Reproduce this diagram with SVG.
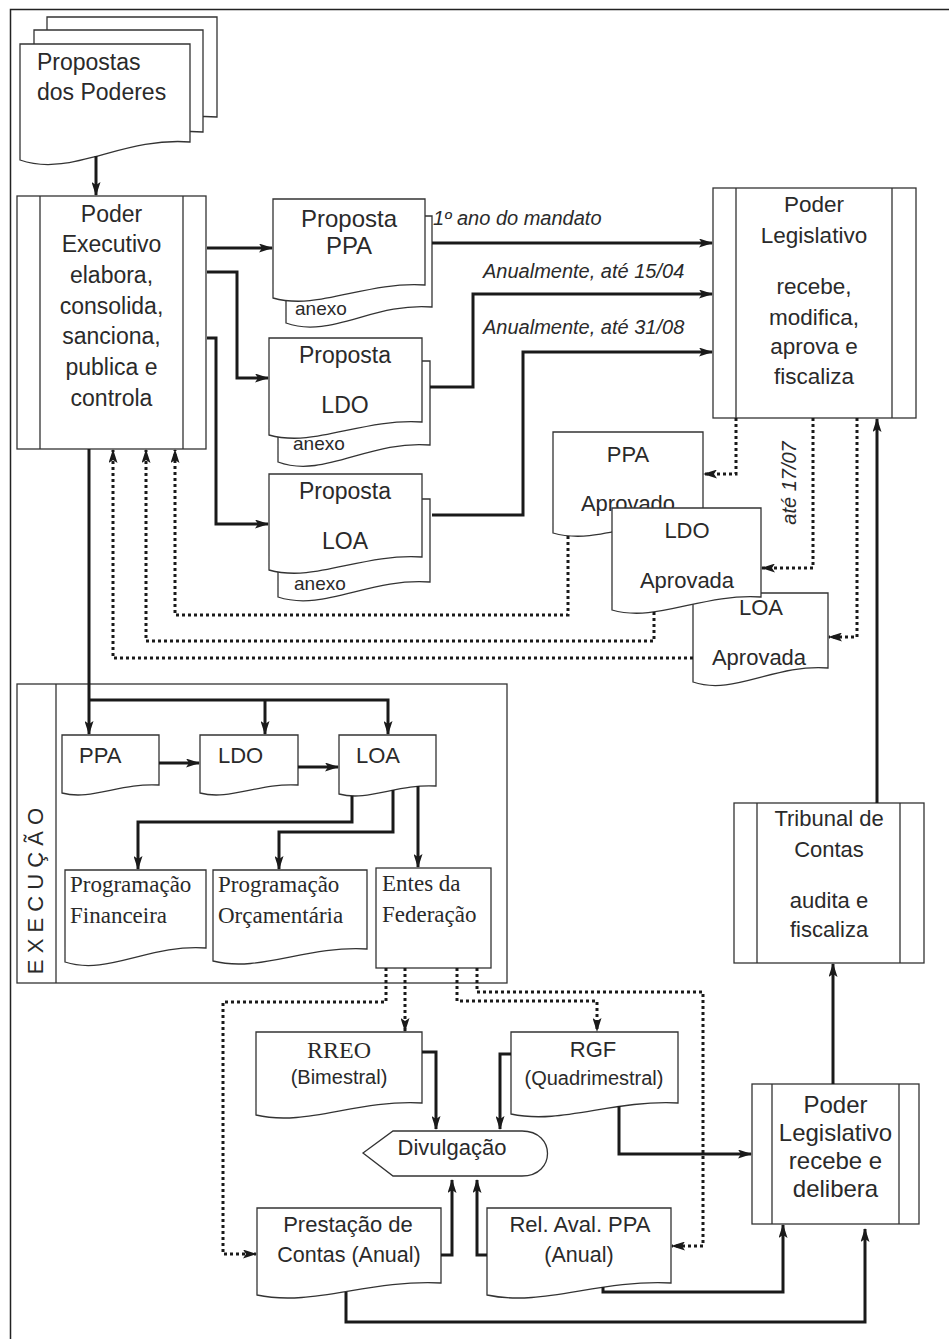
<svg xmlns="http://www.w3.org/2000/svg" width="949" height="1339" viewBox="0 0 949 1339">
<style>
.b{fill:#fff;stroke:#333;stroke-width:1.3}
.n{fill:none;stroke:#333;stroke-width:1.3}
.t{font-family:"Liberation Sans",Arial,sans-serif;fill:#2a2a2a}
.s{font-family:"Liberation Serif","Times New Roman",serif;fill:#2a2a2a}
.c{fill:none;stroke:#1a1a1a;stroke-width:3}
.d{fill:none;stroke:#1a1a1a;stroke-width:3;stroke-dasharray:3 3}
.a{marker-end:url(#ah)}
</style>
<defs>
<marker id="ah" viewBox="0 0 14 9" refX="13" refY="4.5" markerWidth="14" markerHeight="9" orient="auto" markerUnits="userSpaceOnUse">
<path d="M0,0 L14,4.5 L0,9 L3,4.5 Z" fill="#1a1a1a"/>
</marker>
</defs>
<rect width="949" height="1339" fill="#fff"/>
<path d="M10.5,1339 V9.5 H949" fill="none" stroke="#222" stroke-width="1.5"/>

<g id="propostas-poderes">
<path class="b" d="M47,17 H217 V117 C149,111.6 98,153 47,135 Z"/>
<path class="b" d="M34,30 H203 V132 C135.4,126.6 84.7,168 34,150 Z"/>
<path class="b" d="M20,44 H190 V142 C122,136.6 71,178 20,160 Z"/>
<text class="t" x="37" y="70" font-size="23">Propostas</text>
<text class="t" x="37" y="100" font-size="23">dos Poderes</text>
</g>

<g id="poder-executivo">
<rect class="b" x="17" y="196" width="189" height="253"/>
<path class="n" d="M40,196 V449 M183,196 V449"/>
<g class="t" font-size="23" text-anchor="middle">
<text x="111.5" y="222">Poder</text>
<text x="111.5" y="252">Executivo</text>
<text x="111.5" y="283">elabora,</text>
<text x="111.5" y="314">consolida,</text>
<text x="111.5" y="344">sanciona,</text>
<text x="111.5" y="375">publica e</text>
<text x="111.5" y="406">controla</text>
</g>
</g>

<g id="proposta-ppa">
<path class="b" d="M286,216 H432 V307 C373.6,302.2 329.8,339 286,323 Z"/>
<text class="t" x="295" y="315" font-size="19">anexo</text>
<path class="b" d="M273,199 H425 V285 C364.2,281.1 318.6,311 273,298 Z"/>
<text class="t" x="349" y="227" font-size="24" text-anchor="middle">Proposta</text>
<text class="t" x="349" y="254" font-size="24" text-anchor="middle">PPA</text>
</g>

<g id="proposta-ldo">
<path class="b" d="M278,361 H430 V445 C369.2,439.9 323.6,479 278,462 Z"/>
<text class="t" x="293" y="450" font-size="19">anexo</text>
<path class="b" d="M269,338 H422 V422 C360.8,418.1 314.9,448 269,435 Z"/>
<text class="t" x="345" y="363" font-size="23" text-anchor="middle">Proposta</text>
<text class="t" x="345" y="413" font-size="23" text-anchor="middle">LDO</text>
</g>

<g id="proposta-loa">
<path class="b" d="M278,499 H430 V582 C369.2,577.5 323.6,612 278,597 Z"/>
<text class="t" x="294" y="590" font-size="19">anexo</text>
<path class="b" d="M269,474 H422 V557 C360.8,553.1 314.9,583 269,570 Z"/>
<text class="t" x="345" y="499" font-size="23" text-anchor="middle">Proposta</text>
<text class="t" x="345" y="549" font-size="23" text-anchor="middle">LOA</text>
</g>

<g id="poder-legislativo">
<rect class="b" x="713" y="188" width="203" height="230"/>
<path class="n" d="M736,188 V418 M892,188 V418"/>
<g class="t" font-size="22.5" text-anchor="middle">
<text x="814" y="212">Poder</text>
<text x="814" y="243">Legislativo</text>
<text x="814" y="294">recebe,</text>
<text x="814" y="325">modifica,</text>
<text x="814" y="354">aprova e</text>
<text x="814" y="384">fiscaliza</text>
</g>
</g>

<g id="ppa-aprovado">
<path class="b" d="M553,432 H703 V520 C643,516.1 598,546 553,533 Z"/>
<text class="t" x="628" y="462" font-size="22" text-anchor="middle">PPA</text>
<text class="t" x="628" y="511" font-size="22" text-anchor="middle">Aprovado</text>
</g>

<g id="loa-aprovada">
<path class="b" d="M693,593 H828 V668 C774,663.8 733.5,696 693,682 Z"/>
<text class="t" x="761" y="615" font-size="22" text-anchor="middle">LOA</text>
<text class="t" x="759" y="665" font-size="22" text-anchor="middle">Aprovada</text>
</g>

<g id="ldo-aprovada">
<path class="b" d="M612,508 H761 V597 C701.4,593.1 656.7,623 612,610 Z"/>
<text class="t" x="687" y="538" font-size="22" text-anchor="middle">LDO</text>
<text class="t" x="687" y="588" font-size="22" text-anchor="middle">Aprovada</text>
</g>

<g id="execucao">
<rect class="b" x="17" y="684" width="490" height="299"/>
<path class="n" d="M56,684 V983"/>
<text class="t" x="43" y="891" font-size="22" text-anchor="middle" transform="rotate(-90 43 891)">E X E C U Ç Ã O</text>
</g>

<g id="exec-ppa">
<path class="b" d="M62,735 H159 V785 C120.2,782.6 91.1,801 62,793 Z"/>
<text class="t" x="79" y="763" font-size="22">PPA</text>
</g>
<g id="exec-ldo">
<path class="b" d="M200,735 H298 V785 C258.8,782.6 229.4,801 200,793 Z"/>
<text class="t" x="218" y="763" font-size="22">LDO</text>
</g>
<g id="exec-loa">
<path class="b" d="M339,735 H436 V786 C397.2,783.6 368.1,802 339,794 Z"/>
<text class="t" x="356" y="763" font-size="22">LOA</text>
</g>

<g id="programacao-financeira">
<path class="b" d="M65,870 H206 V948 C149.6,943.8 107.3,976 65,962 Z"/>
<text class="s" x="70" y="892" font-size="23">Programação</text>
<text class="s" x="70" y="923" font-size="23">Financeira</text>
</g>
<g id="programacao-orcamentaria">
<path class="b" d="M213,870 H367 V949 C305.4,945.4 259.2,973 213,961 Z"/>
<text class="s" x="218" y="892" font-size="23">Programação</text>
<text class="s" x="218" y="923" font-size="23">Orçamentária</text>
</g>
<g id="entes-federacao">
<rect class="b" x="376" y="868" width="115" height="100"/>
<text class="s" x="382" y="891" font-size="23">Entes da</text>
<text class="s" x="382" y="922" font-size="23">Federação</text>
</g>

<g id="rreo">
<path class="b" d="M256,1032 H422 V1103 C355.6,1099.4 305.8,1127 256,1115 Z"/>
<text class="s" x="339" y="1058" font-size="24" text-anchor="middle">RREO</text>
<text class="t" x="339" y="1084" font-size="20" text-anchor="middle">(Bimestral)</text>
</g>
<g id="rgf">
<path class="b" d="M511,1032 H678 V1103 C611.2,1099.7 561.1,1125 511,1114 Z"/>
<text class="t" x="593" y="1057" font-size="22" text-anchor="middle">RGF</text>
<text class="t" x="594" y="1085" font-size="20" text-anchor="middle">(Quadrimestral)</text>
</g>

<g id="divulgacao">
<path class="b" d="M363,1153 L393,1131 H522 C556,1131 556,1176 522,1176 H393 Z"/>
<text class="t" x="452" y="1155" font-size="22" text-anchor="middle">Divulgação</text>
</g>

<g id="prestacao-contas">
<path class="b" d="M257,1208 H441 V1283 C367.4,1279.4 312.2,1307 257,1295 Z"/>
<text class="t" x="348" y="1232" font-size="22" text-anchor="middle">Prestação de</text>
<text class="t" x="349" y="1262" font-size="21.5" text-anchor="middle">Contas (Anual)</text>
</g>
<g id="rel-aval-ppa">
<path class="b" d="M487,1208 H671 V1283 C597.4,1279.4 542.2,1307 487,1295 Z"/>
<text class="t" x="580" y="1232" font-size="22" text-anchor="middle">Rel. Aval. PPA</text>
<text class="t" x="579" y="1262" font-size="21.5" text-anchor="middle">(Anual)</text>
</g>

<g id="tribunal-contas">
<rect class="b" x="734" y="803" width="190" height="160"/>
<path class="n" d="M757,803 V963 M900,803 V963"/>
<g class="t" font-size="22" text-anchor="middle">
<text x="829" y="826">Tribunal de</text>
<text x="829" y="857">Contas</text>
<text x="829" y="908">audita e</text>
<text x="829" y="937">fiscaliza</text>
</g>
</g>

<g id="poder-legislativo-delibera">
<rect class="b" x="752" y="1084" width="167" height="140"/>
<path class="n" d="M772,1084 V1224 M899,1084 V1224"/>
<g class="t" font-size="24" text-anchor="middle">
<text x="835.5" y="1113">Poder</text>
<text x="835.5" y="1141">Legislativo</text>
<text x="835.5" y="1169">recebe e</text>
<text x="835.5" y="1197">delibera</text>
</g>
</g>

<g id="connectors">
<path class="c a" d="M96,156 V195"/>
<path class="c a" d="M207,248 H272"/>
<path class="c a" d="M207,272 H237 V378 H268"/>
<path class="c a" d="M207,338 H216 V524 H268"/>
<path class="c a" d="M432,243 H712"/>
<path class="c a" d="M430,387 H473 V294 H712"/>
<path class="c a" d="M432,515 H523 V352 H712"/>
<path class="c a" d="M89,449 V734"/>
<path class="c a" d="M89,700 H388 V734"/>
<path class="c a" d="M265,700 V734"/>
<path class="c a" d="M159,763 H199"/>
<path class="c a" d="M298,767 H338"/>
<path class="c a" d="M352,796 V822 H138 V869"/>
<path class="c a" d="M393,790 V832 H279 V869"/>
<path class="c a" d="M418,786 V867"/>
<path class="c a" d="M422,1052 H436 V1129"/>
<path class="c a" d="M511,1054 H500 V1129"/>
<path class="c a" d="M619,1106 V1154 H751"/>
<path class="c a" d="M441,1255 H452 V1180"/>
<path class="c a" d="M487,1255 H477 V1180"/>
<path class="c a" d="M346,1292 V1322 H865 V1229"/>
<path class="c a" d="M603,1287 V1292 H783 V1225"/>
<path class="c a" d="M833,1084 V964"/>
<path class="c a" d="M877,803 V419"/>
<path class="d a" d="M736,418 V474 H704"/>
<path class="d a" d="M813,418 V568 H762"/>
<path class="d a" d="M857,418 V637 H829"/>
<path class="d a" d="M568,536 V615 H175 V450"/>
<path class="d a" d="M654,612 V641 H146 V450"/>
<path class="d a" d="M693,658 H113 V450"/>
<path class="d a" d="M386,968 V1002 H223 V1254 H256"/>
<path class="d a" d="M405,968 V1031"/>
<path class="d a" d="M457,968 V1001 H597 V1031"/>
<path class="d a" d="M477,968 V992 H703 V1246 H672"/>
<g class="t" font-size="20" font-style="italic">
<text x="433" y="225">1º ano do mandato</text>
<text x="483" y="278">Anualmente, até 15/04</text>
<text x="483" y="334">Anualmente, até 31/08</text>
<text x="796" y="483" text-anchor="middle" transform="rotate(-90 796 483)">até  17/07</text>
</g>
</g>
</svg>
